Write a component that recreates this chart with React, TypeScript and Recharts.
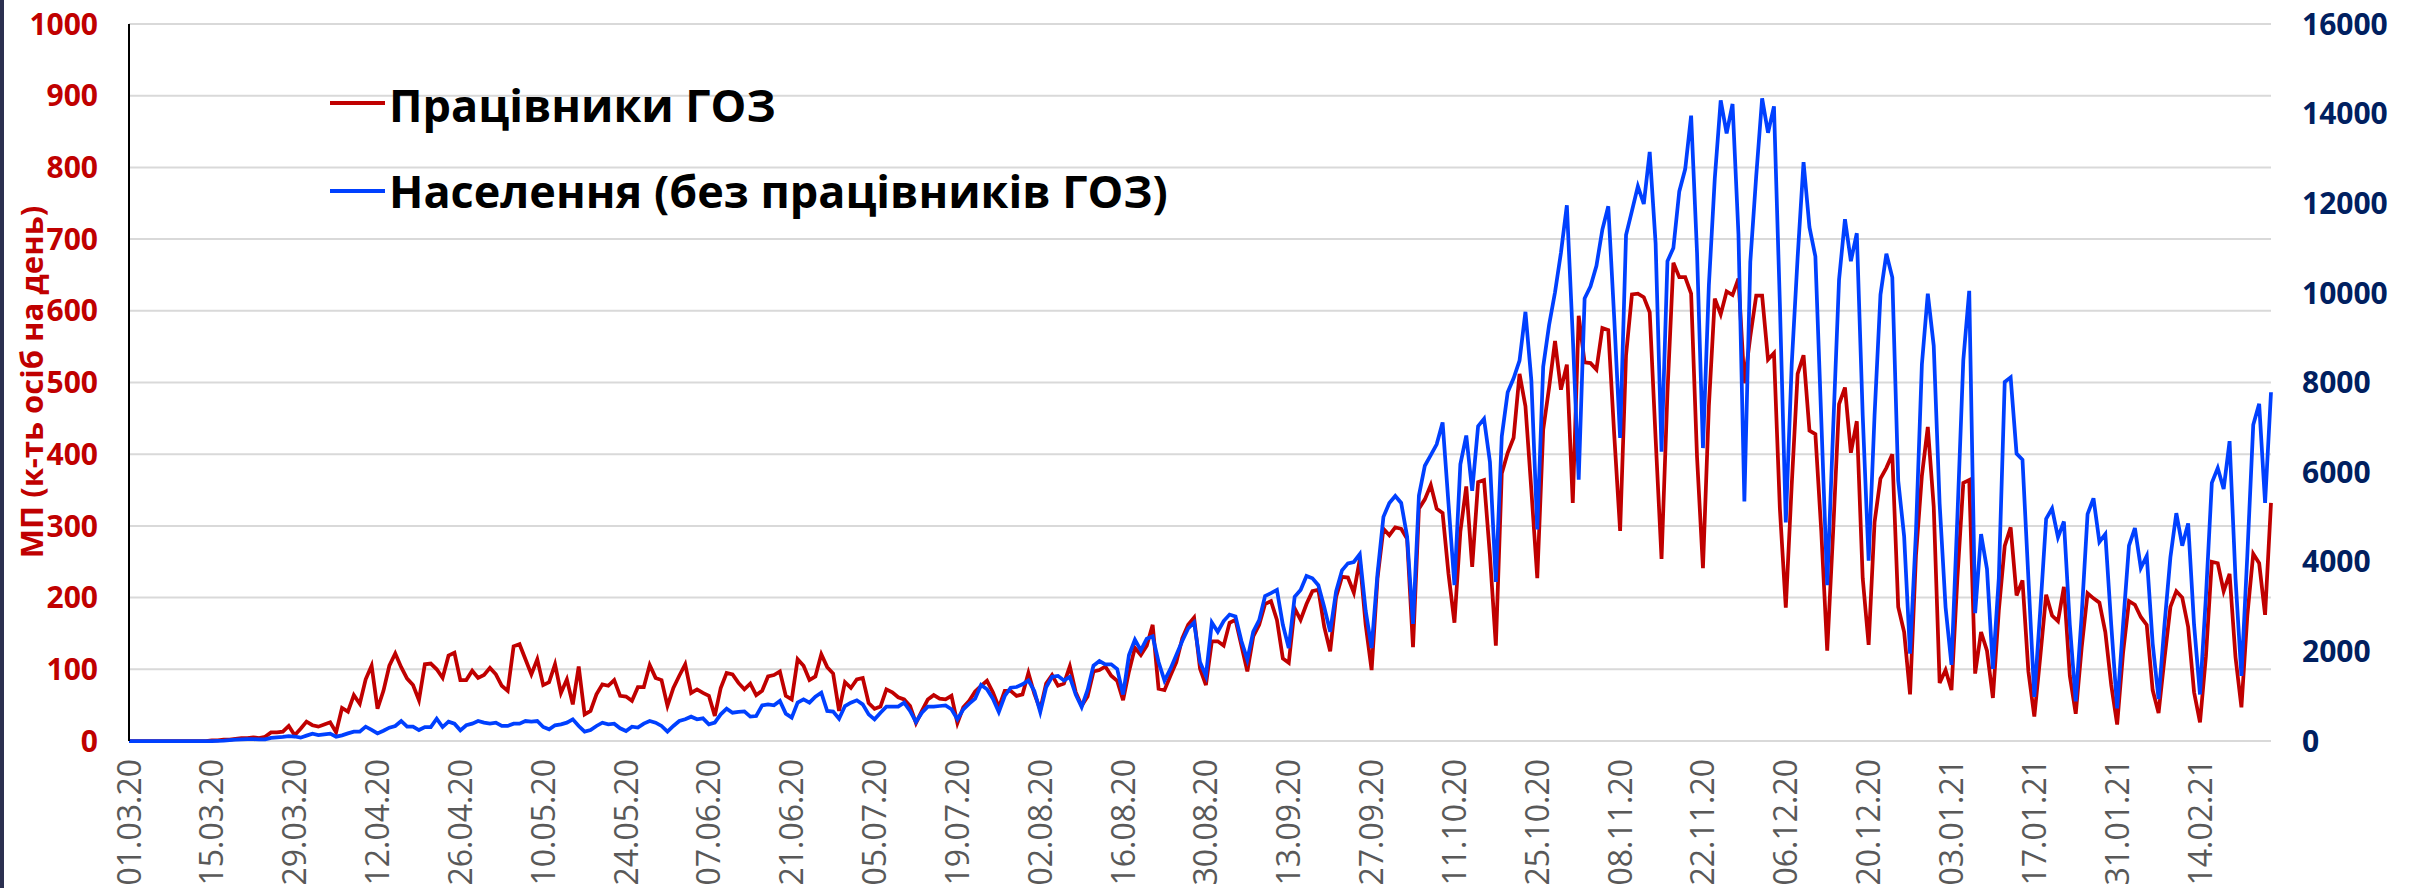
import React from "react"
import {
  LineChart,
  Line,
  XAxis,
  YAxis,
  CartesianGrid,
} from "recharts"

// daily counts, 01.03.20 .. 26.02.21
const HCW = [
  0, 0, 0, 0, 0, 0, 0, 0, 0, 0,
  0, 0, 0, 0, 1, 1, 2, 2, 3, 4,
  4, 5, 4, 6, 12, 12, 13, 21, 8, 17,
  27, 22, 20, 23, 26, 12, 46, 41, 64, 52,
  86, 105, 45, 70, 105, 122, 103, 87, 78, 57,
  107, 108, 100, 88, 119, 123, 85, 85, 98, 88,
  92, 102, 93, 77, 70, 132, 135, 114, 93, 114,
  78, 82, 107, 67, 86, 51, 104, 37, 42, 65,
  79, 77, 85, 63, 62, 56, 75, 75, 106, 88,
  85, 49, 74, 91, 107, 67, 72, 67, 63, 35,
  74, 95, 93, 81, 72, 80, 64, 70, 90, 92,
  97, 63, 58, 114, 105, 85, 90, 121, 103, 94,
  42, 82, 74, 86, 88, 53, 45, 48, 72, 68,
  61, 58, 49, 25, 42, 58, 64, 59, 58, 63,
  25, 47, 56, 69, 77, 84, 68, 47, 70, 70,
  63, 65, 95, 66, 44, 80, 92, 77, 80, 104,
  68, 49, 62, 97, 99, 104, 91, 84, 57, 97,
  130, 120, 133, 162, 73, 71, 91, 110, 143, 162,
  172, 101, 78, 139, 139, 133, 165, 169, 133, 97,
  146, 162, 191, 195, 169, 115, 109, 185, 169, 191,
  209, 211, 159, 125, 201, 229, 228, 207, 253, 162,
  99, 227, 296, 287, 298, 296, 282, 131, 324, 337,
  357, 324, 318, 233, 165, 292, 355, 243, 361, 364,
  259, 133, 373, 402, 423, 512, 467, 350, 227, 434,
  493, 558, 490, 525, 332, 593, 528, 527, 518, 576,
  573, 428, 293, 538, 623, 624, 619, 598, 422, 254,
  486, 667, 647, 647, 624, 396, 241, 467, 617, 595,
  627, 622, 645, 499, 564, 621, 621, 532, 541, 324,
  186, 357, 512, 538, 433, 428, 292, 126, 292, 470,
  493, 402, 446, 227, 134, 305, 366, 381, 400, 187,
  152, 65, 259, 370, 438, 327, 81, 99, 71, 227,
  360, 364, 94, 152, 126, 60, 182, 272, 298, 203,
  224, 97, 34, 117, 204, 175, 167, 215, 91, 38,
  130, 206, 199, 193, 152, 78, 23, 123, 195, 190,
  173, 162, 71, 39, 115, 187, 209, 200, 159, 68,
  26, 118, 250, 248, 209, 233, 117, 47, 175, 261,
  248, 176, 332,
]

const POPULATION = [
  0, 0, 0, 0, 0, 0, 0, 0, 0, 0,
  0, 0, 0, 0, 0, 5, 10, 20, 30, 35,
  40, 40, 37, 37, 70, 80, 90, 110, 100, 74,
  120, 164, 134, 150, 164, 97, 126, 170, 208, 208,
  320, 250, 171, 230, 298, 335, 446, 320, 320, 245,
  312, 312, 498, 312, 431, 387, 238, 350, 387, 446,
  409, 387, 409, 335, 335, 387, 387, 446, 431, 446,
  312, 260, 350, 372, 409, 484, 335, 208, 245, 335,
  409, 372, 387, 283, 223, 320, 298, 387, 446, 409,
  335, 208, 335, 446, 484, 543, 484, 506, 372, 409,
  595, 722, 632, 650, 660, 543, 558, 796, 818, 796,
  893, 610, 521, 856, 930, 856, 990, 1079, 670, 655,
  498, 781, 856, 908, 818, 595, 484, 632, 766, 766,
  766, 856, 670, 424, 632, 766, 766, 781, 796, 707,
  484, 707, 833, 945, 1250, 1153, 945, 647, 1004, 1190,
  1205, 1265, 1354, 1116, 647, 1200, 1432, 1453, 1349, 1432,
  1038, 760, 1141, 1681, 1785, 1712, 1712, 1608, 1038, 1920,
  2262, 2023, 2283, 2335, 1764, 1349, 1608, 1920, 2231, 2511,
  2646, 1764, 1453, 2646, 2438, 2677, 2822, 2781, 2231, 1816,
  2438, 2698, 3237, 3300, 3372, 2594, 2075, 3217, 3372, 3683,
  3632, 3476, 2988, 2438, 3341, 3808, 3964, 3995, 4171, 2905,
  2075, 3735, 5001, 5313, 5468, 5313, 4565, 2615, 5478, 6143,
  6381, 6620, 7108, 5292, 3476, 6174, 6817, 5582, 7025, 7191,
  6226, 3549, 6796, 7782, 8093, 8488, 9577, 8041, 4721, 8353,
  9286, 10013, 10895, 11953, 9027, 5831, 9878, 10148, 10604, 11414,
  11932, 9442, 6765, 11289, 11829, 12379, 11984, 13147, 11102, 6454,
  10708, 10999, 12264, 12762, 13956, 10895, 6537, 10168, 12555, 14298,
  13561, 14215, 11310, 5344, 10687, 12607, 14340, 13572, 14163, 9753,
  4877, 8405, 10791, 12918, 11466, 10812, 7159, 3476, 6952, 10293,
  11642, 10708, 11331, 7263, 4026, 7263, 9961, 10874, 10345, 5811,
  4565, 1951, 4669, 8405, 9982, 8820, 5292, 2988, 1700, 5000,
  8500, 10044, 2853, 4617, 3839, 1608, 3632, 8010, 8114, 6412,
  6277, 3632, 986, 2905, 4960, 5188, 4545, 4898, 2594, 882,
  2802, 5063, 5416, 4441, 4617, 2594, 726, 2594, 4358, 4752,
  3860, 4130, 2179, 934, 2594, 4099, 5084, 4358, 4856, 2594,
  1038, 3217, 5759, 6091, 5624, 6692, 3632, 1453, 4150, 7056,
  7523, 5313, 7782,
]

const LEFT_TICKS = [0, 100, 200, 300, 400, 500, 600, 700, 800, 900, 1000]
const RIGHT_TICKS = [0, 2000, 4000, 6000, 8000, 10000, 12000, 14000, 16000]

const pad = (n: number) => String(n).padStart(2, "0")

// dd.mm.yy labels for each day
const DATES = HCW.map((_, i) => {
  const d = new Date(2020, 2, 1 + i)
  return `${pad(d.getDate())}.${pad(d.getMonth() + 1)}.${pad(d.getFullYear() % 100)}`
})

const data = DATES.map((date, i) => ({
  date,
  hcw: HCW[i],
  pop: POPULATION[i],
}))

const FONT = "'Open Sans', 'DejaVu Sans', sans-serif"

const DateTick = ({ x, y, payload }: any) => {
  const ty = y + 10
  return (
    <text
      x={x}
      y={ty}
      transform={`rotate(-90 ${x} ${ty})`}
      textAnchor="end"
      dy="0.36em"
      fill="#595959"
      fontSize={32}
      fontFamily={FONT}
    >
      {payload.value}
    </text>
  )
}

export default function App() {
  return (
    <div
      style={{
        position: "absolute",
        left: 0,
        top: 0,
        width: 2418,
        height: 888,
        background: "#fff",
        overflow: "hidden",
      }}
    >
      {/* slide frame edge */}
      <div
        style={{
          position: "absolute",
          left: 0,
          top: 0,
          width: 4,
          height: 888,
          background: "#2B3050",
        }}
      />

      <LineChart
        width={2418}
        height={888}
        data={data}
        margin={{ top: 24, right: 0, bottom: 0, left: 0 }}
      >
        <CartesianGrid
          yAxisId="left"
          vertical={false}
          stroke="#D9D9D9"
          strokeWidth={2}
        />
        <XAxis
          dataKey="date"
          interval={13}
          height={147}
          axisLine={false}
          tickLine={false}
          tick={DateTick}
        />
        <YAxis
          yAxisId="left"
          orientation="left"
          width={129}
          domain={[0, 1000]}
          ticks={LEFT_TICKS}
          interval={0}
          tickLine={false}
          tickMargin={25}
          axisLine={{ stroke: "#000", strokeWidth: 2 }}
          tick={{ fill: "#C00000", fontSize: 30, fontWeight: 700, fontFamily: FONT }}
        />
        <YAxis
          yAxisId="right"
          orientation="right"
          width={147}
          domain={[0, 16000]}
          ticks={RIGHT_TICKS}
          interval={0}
          tickLine={false}
          axisLine={false}
          tickMargin={25}
          tick={{ fill: "#002060", fontSize: 30, fontWeight: 700, fontFamily: FONT }}
        />
        <Line
          yAxisId="left"
          type="linear"
          dataKey="hcw"
          stroke="#C00000"
          strokeWidth={3.75}
          dot={false}
          isAnimationActive={false}
        />
        <Line
          yAxisId="right"
          type="linear"
          dataKey="pop"
          stroke="#0040FF"
          strokeWidth={3.75}
          dot={false}
          isAnimationActive={false}
        />
      </LineChart>

      {/* axis title + legend */}
      <svg
        width={2418}
        height={888}
        style={{ position: "absolute", left: 0, top: 0, pointerEvents: "none" }}
      >
        <text
          transform="translate(31 382) rotate(-90)"
          textAnchor="middle"
          dominantBaseline="central"
          fill="#C00000"
          fontSize={31}
          fontWeight={700}
          fontFamily={FONT}
        >
          МП (к-ть осіб на день)
        </text>

        <line x1={330} y1={103} x2={385} y2={103} stroke="#C00000" strokeWidth={4} />
        <text x={389} y={122} fontSize={45} fontWeight={700} fontFamily={FONT} fill="#000">
          Працівники ГОЗ
        </text>

        <line x1={330} y1={191} x2={385} y2={191} stroke="#0040FF" strokeWidth={4} />
        <text x={389} y={208} fontSize={45} fontWeight={700} fontFamily={FONT} fill="#000">
          Населення (без працівників ГОЗ)
        </text>
      </svg>
    </div>
  )
}
